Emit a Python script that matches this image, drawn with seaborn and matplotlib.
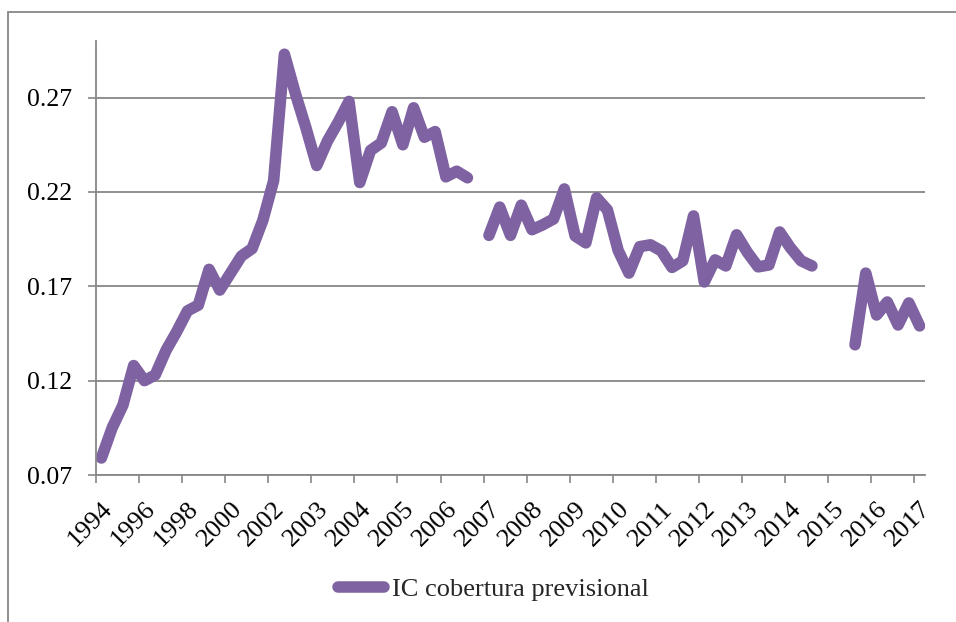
import numpy as np
import pandas as pd
import matplotlib
matplotlib.use("Agg")
import matplotlib.pyplot as plt
from matplotlib.lines import Line2D
from matplotlib.patches import Rectangle
import seaborn as sns

# ---- data ----
tick_labels = ["1994", "1996", "1998", "2000", "2002", "2003", "2004", "2005",
               "2006", "2007", "2008", "2009", "2010", "2011", "2012", "2013",
               "2014", "2015", "2016", "2017"]
series_name = "IC cobertura previsional"
values = [
    0.079, 0.095, 0.107, 0.128, 0.120, 0.123, 0.136, 0.146, 0.157, 0.160,
    0.179, 0.168, 0.177, 0.186, 0.190, 0.205, 0.226, 0.293, 0.2725, 0.254,
    0.234, 0.247, 0.257, 0.268, 0.225, 0.242, 0.246, 0.2625, 0.245, 0.2646,
    0.249, 0.252, 0.228, 0.231, 0.2275, np.nan, 0.197, 0.212, 0.197, 0.213,
    0.200, 0.2026, 0.2057, 0.2216, 0.1967, 0.193, 0.2169, 0.2105, 0.189, 0.177,
    0.191, 0.192, 0.1888, 0.180, 0.1835, 0.2073, 0.1723, 0.184, 0.1808, 0.1973,
    0.188, 0.1803, 0.1813, 0.1988, 0.1904, 0.1835, 0.1808, np.nan, np.nan, np.nan,
    0.139, 0.177, 0.1548, 0.1617, 0.1495, 0.1612, 0.149,
]
y_ticks = [0.07, 0.12, 0.17, 0.22, 0.27]

# ---- build table ----
vals = np.array(values, dtype=float)
idx = np.arange(len(vals))
seg = np.cumsum(np.isnan(vals))
df = pd.DataFrame({"idx": idx, "value": vals, "seg": seg}).dropna()

sns.set_theme(style="white")
plt.rcParams["font.family"] = ["Liberation Serif", "DejaVu Serif"]

LINE_C = "#7E62A1"
GRID_C = "#878787"
FS = 18.5
FSX = 19
LW = 8.3

fig = plt.figure(figsize=(9.56, 6.22), dpi=100)
ax = fig.add_axes([96 / 956, 1 - 475 / 622, (925 - 96) / 956, (475 - 41) / 622])

sns.lineplot(data=df, x="idx", y="value", units="seg", estimator=None,
             color=LINE_C, linewidth=LW, ax=ax, legend=False,
             solid_capstyle="round", solid_joinstyle="round")

n = len(vals)
ax.set_xlim(-0.5, n - 0.5)
ax.set_ylim(0.07, 0.30)
ax.set_xlabel("")
ax.set_ylabel("")

# y axis
ax.set_yticks(y_ticks)
ax.set_yticklabels([f"{t:.2f}" for t in y_ticks], fontsize=FS)
ax.yaxis.grid(True, color=GRID_C, linewidth=1.3)
ax.xaxis.grid(False)
ax.tick_params(axis="y", which="major", direction="out", length=6, width=1.2,
               color=GRID_C, labelcolor="black", pad=11, left=True)

# x axis: labels at category centres, tick marks at boundaries
label_pos = np.arange(0, n, 4)
ax.set_xticks(label_pos)
ax.set_xticklabels(tick_labels, rotation=45, ha="right", rotation_mode="anchor",
                   fontsize=FSX)
ax.set_xticks(np.arange(-0.5, n - 1, 4), minor=True)
ax.tick_params(axis="x", which="major", length=0, labelcolor="black", pad=16.5)
ax.tick_params(axis="x", which="minor", direction="out", length=6, width=1.2,
               color=GRID_C, bottom=True)

for s in ["top", "right"]:
    ax.spines[s].set_visible(False)
for s in ["left", "bottom"]:
    ax.spines[s].set_color(GRID_C)
    ax.spines[s].set_linewidth(1.3)

# legend
handle = Line2D([0], [0], color=LINE_C, linewidth=LW, solid_capstyle="round")
fig.legend([handle], [series_name], loc="center left",
           bbox_to_anchor=(338 / 956, 1 - 589 / 622), frameon=False,
           fontsize=19, handlelength=1.75, handletextpad=0.3,
           borderpad=0, borderaxespad=0)

# outer chart border (cropped)
fig.patches.append(Rectangle((8 / 956, -0.1), 1.2, 1.1 - 12 / 622,
                             transform=fig.transFigure, fill=False,
                             edgecolor=GRID_C, linewidth=1.3, clip_on=False))

fig.savefig("out.png", dpi=100)
